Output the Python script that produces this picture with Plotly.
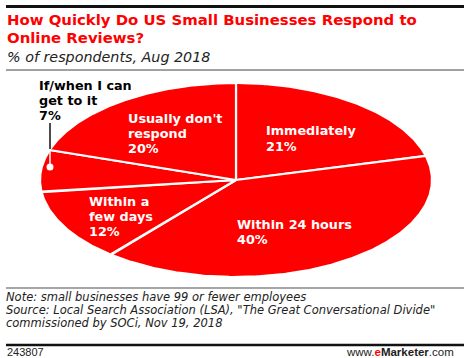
import numpy as np
import plotly.graph_objects as go

W, H = 470, 358

categories = ["Immediately", "Within 24 hours", "Within a few days",
              "If/when I can get to it", "Usually don't respond"]
values = [21, 40, 12, 7, 20]
label_lines = [["Immediately", "21%"],
               ["Within 24 hours", "40%"],
               ["Within a", "few days", "12%"],
               ["If/when I can", "get to it", "7%"],
               ["Usually don't", "respond", "20%"]]

title_lines = ["How Quickly Do US Small Businesses Respond to", "Online Reviews?"]
subtitle = "% of respondents, Aug 2018"
notes = ["Note: small businesses have 99 or fewer employees",
         "Source: Local Search Association (LSA), \"The Great Conversational Divide\"",
         "commissioned by SOCi, Nov 19, 2018"]
chart_id = "243807"

RED = "#ff0000"
BOLD = "DejaVu Sans"
REG = "Liberation Sans"

# ellipse geometry in pixels
cx, cy, a, b = 236, 180, 196, 97

fig = go.Figure()

total = sum(values)
cum = 0
for cat, v in zip(categories, values):
    t0 = cum / total * 2 * np.pi
    t1 = (cum + v) / total * 2 * np.pi
    cum += v
    th = np.linspace(t0, t1, 200)
    xs = np.concatenate([[0], np.sin(th), [0]])
    ys = np.concatenate([[0], np.cos(th), [0]])
    fig.add_trace(go.Scatter(x=xs, y=ys, mode="lines", fill="toself",
                             fillcolor=RED, line=dict(color="white", width=2.2),
                             name=cat, hoverinfo="name", showlegend=False))

# axes map unit circle to the ellipse
fig.update_xaxes(range=[-cx / a, (W - cx) / a], visible=False, fixedrange=True)
fig.update_yaxes(range=[-(H - cy) / b, cy / b], visible=False, fixedrange=True)

ann = []
def txt(x, y, s, size, color, bold=False, italic=False, xanchor="left", family=REG, pad=1):
    if bold:
        s = "<b>" + s + "</b>"
    if italic:
        s = "<i>" + s + "</i>"
    ann.append(dict(x=x / W, y=1 - y / H, xref="paper", yref="paper", text=s,
                    showarrow=False, xanchor=xanchor, yanchor="middle", borderpad=pad,
                    font=dict(size=size, color=color, family=family)))

# title
txt(5, 20, title_lines[0], 14.9, RED, bold=True, family=BOLD)
txt(5, 38, title_lines[1], 14.9, RED, bold=True, family=BOLD)
txt(5, 57, subtitle, 14.3, "#222", italic=True, family=BOLD)

# slice labels
label_pos = [(264, 131, "white"), (235, 224, "white"), (87, 201, "white"),
             (37, 85, "black"), (126, 118, "white")]
for lines, (lx, ly, col) in zip(label_lines, label_pos):
    for i, line in enumerate(lines):
        txt(lx, ly + i * 15.3, line, 12.8, col, bold=True, family=BOLD)

# notes
for i, n in enumerate(notes):
    txt(5, 297 + i * 13.1, n, 11.5, "#222", italic=True, family=BOLD, pad=0)
txt(5, 352, chart_id, 11, "#222")
ann.append(dict(x=456 / W, y=1 - 352 / H, xref="paper", yref="paper",
                text="www.<b><span style='color:#ff0000'>e</span>Marketer</b>.com",
                showarrow=False, xanchor="right", yanchor="middle",
                font=dict(size=11.5, color="#222", family=REG)))

shapes = [
    dict(type="line", xref="paper", yref="paper", x0=6 / W, x1=464 / W,
         y0=1 - 6.5 / H, y1=1 - 6.5 / H, line=dict(color="#111", width=3)),
    dict(type="line", xref="paper", yref="paper", x0=6 / W, x1=464 / W,
         y0=1 - 70 / H, y1=1 - 70 / H, line=dict(color="#444", width=1)),
    dict(type="line", xref="paper", yref="paper", x0=6 / W, x1=464 / W,
         y0=1 - 288 / H, y1=1 - 288 / H, line=dict(color="#888", width=1.5)),
    dict(type="line", xref="paper", yref="paper", x0=6 / W, x1=464 / W,
         y0=1 - 345 / H, y1=1 - 345 / H, line=dict(color="#111", width=2.5)),
    # leader line for small slice
    dict(type="line", xref="paper", yref="paper", x0=50 / W, x1=50 / W,
         y0=1 - 123 / H, y1=1 - 149 / H, line=dict(color="#111", width=1.5)),
    dict(type="line", xref="paper", yref="paper", x0=50 / W, x1=50 / W,
         y0=1 - 149 / H, y1=1 - 166 / H, line=dict(color="white", width=1.5)),
    dict(type="circle", xref="paper", yref="paper", x0=46.5 / W, x1=53.5 / W,
         y0=1 - 163.5 / H, y1=1 - 170.5 / H, fillcolor="white",
         line=dict(color="white", width=0)),
]

fig.update_layout(width=W, height=H, margin=dict(l=0, r=0, t=0, b=0),
                  paper_bgcolor="white", plot_bgcolor="white",
                  annotations=ann, shapes=shapes, showlegend=False)

fig.write_html("out.html", config={"displayModeBar": False},
               post_script="document.body.style.margin='0';document.body.style.overflow='hidden';")
